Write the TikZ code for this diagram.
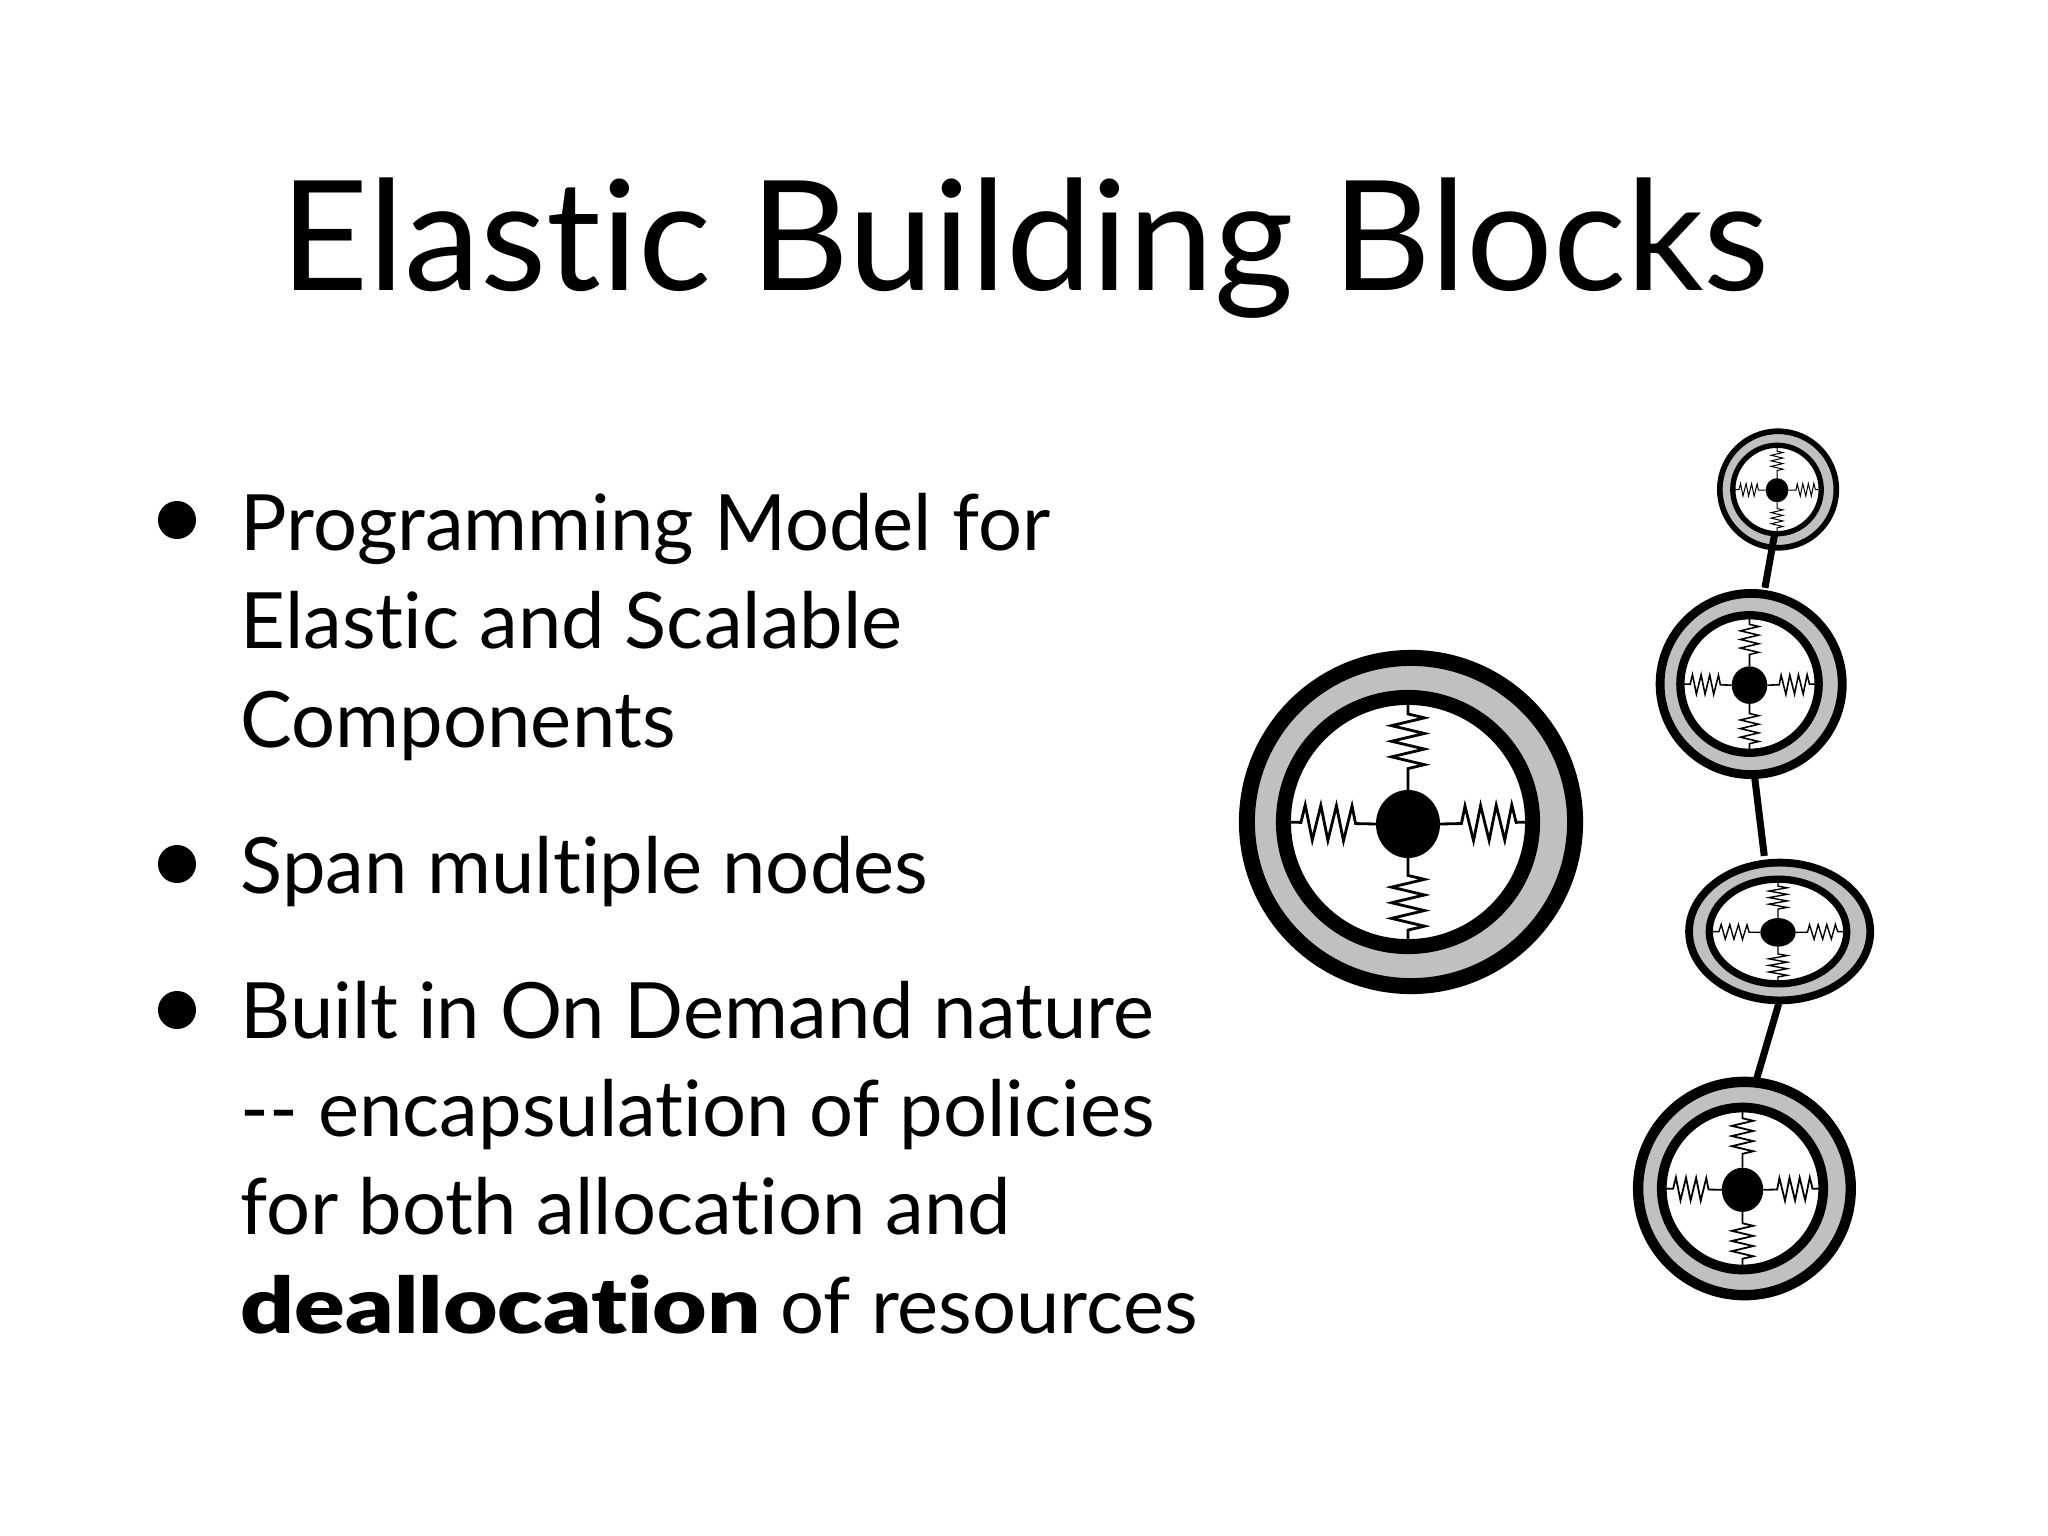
\documentclass[tikz,border=0pt]{standalone}
\usepackage{fontspec}
\setmainfont{Lato}[Ligatures=NoCommon]
\newfontfamily\heavyfont{Lato Black}[Ligatures=NoCommon,FakeStretch=1.21]
\usetikzlibrary{shapes.geometric,decorations.pathmorphing}
\definecolor{ringgray}{RGB}{192,192,192}
\tikzset{
    px/.style={x=0.01cm,y=-0.01cm},
    titletext/.style={anchor=base,inner sep=0,font=\fontsize{43.5}{52}\selectfont},
    bodytext/.style={anchor=base west,inner sep=0,align=left,font=\fontsize{22.1}{27.9}\selectfont},
    bulletdot/.style={circle,fill=black,inner sep=0,minimum size=0.38cm},
    ring/.style={ellipse,draw=black,inner sep=0,outer sep=0},
    hub/.style={ellipse,fill=black,inner sep=0,outer sep=0},
    linkline/.style={draw=black,line width=0.07cm},
    springline/.style={draw=black,decorate},
}
% #1 name, #2 x, #3 y, #4 xscale, #5 yscale
\newcommand{\elasticblock}[5]{
    \pgfmathsetmacro{\ls}{0.5*(#4+#5)}
    \node[ring,fill=ringgray,line width=\ls*0.16cm,minimum width=#4*3.28cm,minimum height=#5*3.28cm] (o#1) at (#2+3*#4,#3) {};
    \node[ring,fill=white,line width=\ls*0.15cm,minimum width=#4*2.49cm,minimum height=#5*2.49cm] (i#1) at (#2,#3) {};
    \node[hub,minimum width=#4*0.64cm,minimum height=#5*0.68cm] (h#1) at (#2,#3+2*#5) {};
    \draw[springline,line width=\ls*0.028cm,decoration={zigzag,amplitude=#4*0.165cm,segment length=#5*0.156cm,pre length=#5*0.165cm,post length=#5*0.14cm}] (i#1.north) -- (h#1.north);
    \draw[springline,line width=\ls*0.028cm,decoration={zigzag,mirror,amplitude=#4*0.165cm,segment length=#5*0.156cm,pre length=#5*0.165cm,post length=#5*0.14cm}] (i#1.south) -- (h#1.south);
    \draw[springline,line width=\ls*0.028cm,decoration={zigzag,amplitude=#5*0.175cm,segment length=#4*0.156cm,pre length=#4*0.175cm,post length=#4*0.14cm}] (i#1.west) -- (h#1.west);
    \draw[springline,line width=\ls*0.028cm,decoration={zigzag,mirror,amplitude=#5*0.175cm,segment length=#4*0.156cm,pre length=#4*0.165cm,post length=#4*0.14cm}] (i#1.east) -- (h#1.east);
}
\begin{document}
\begin{tikzpicture}[px]
    \useasboundingbox (0,0) rectangle (2048,1536);
    \node[titletext] (title) at (1025,290) {Elastic Building Blocks};
    % bullets
    \node[bulletdot] (dotA) at (177,520) {};
    \node[bulletdot] (dotB) at (177,864) {};
    \node[bulletdot] (dotC) at (177,1010) {};
    \node[bodytext] (itemA) at (240,747) {Programming Model for\\Elastic and Scalable\\Components};
    \node[bodytext] (itemB) at (240,893) {Span multiple nodes};
    \node[bodytext] (itemC) at (240,1333) {Built in On Demand nature\\-{}- encapsulation of policies\\for both allocation and\\{\heavyfont deallocation} of resources};
    % blocks
    \elasticblock{Big}{1408}{822}{1}{1}
    \elasticblock{A}{1777}{489.5}{0.355}{0.355}
    \elasticblock{B}{1749.5}{684}{0.555}{0.552}
    \elasticblock{C}{1778}{931.5}{0.552}{0.42}
    \elasticblock{D}{1742.5}{1188.5}{0.648}{0.65}
    % links
    \draw[linkline,shorten >=0.066cm] (iA.267) -- (oB.82);
    \draw[linkline,shorten >=0.076cm] (oB.-88) -- (oC.102);
    \draw[linkline,shorten <=0.035cm] (oC.-90) -- (oD.84);
\end{tikzpicture}
\end{document}
